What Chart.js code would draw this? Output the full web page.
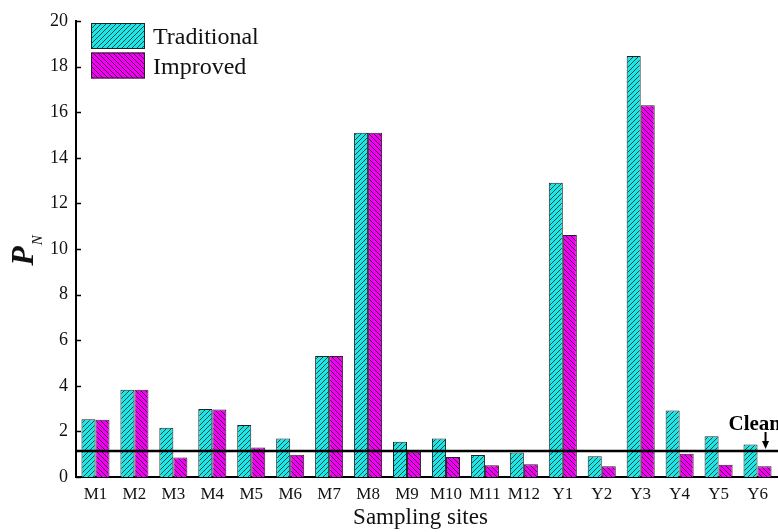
<!DOCTYPE html>
<html><head><meta charset="utf-8">
<script src="https://cdn.jsdelivr.net/npm/chart.js@4"></script>
<style>html,body{margin:0;padding:0;background:#fff}#wrap{width:778px;height:532px}</style>
</head><body><div id="wrap"><canvas id="c" width="778" height="532"></canvas></div>
<script>
// ---- data ----
const categories = ['M1','M2','M3','M4','M5','M6','M7','M8','M9','M10','M11','M12','Y1','Y2','Y3','Y4','Y5','Y6'];
const traditional = [2.53,3.83,2.16,2.98,2.28,1.69,5.31,15.10,1.55,1.69,0.96,1.08,12.91,0.91,18.47,2.92,1.79,1.43];
const improved    = [2.51,3.83,0.85,2.96,1.29,0.98,5.31,15.10,1.11,0.88,0.51,0.56,10.61,0.47,16.30,1.02,0.54,0.47];
const seriesLabels = ['Traditional','Improved'];
const yTickMin = 0, yTickMax = 20, yTickStep = 2;
const thresholdValue = 1.14;
const annotationText = 'Clean';
const annotationIndex = 17;
const yTitleMain = 'P', yTitleSub = 'N';
const xTitle = 'Sampling sites';

const SERIF = '"Liberation Serif","Times New Roman",serif';
const canvas = document.getElementById('c');
const ctx0 = canvas.getContext('2d');

function hatch(bg, dir) {
  const s = 5;
  const c = document.createElement('canvas'); c.width = s; c.height = s;
  const g = c.getContext('2d');
  g.fillStyle = bg; g.fillRect(0, 0, s, s);
  g.strokeStyle = 'rgba(0,0,0,0.75)'; g.lineWidth = 0.9;
  g.beginPath();
  if (dir > 0) {
    g.moveTo(0, s); g.lineTo(s, 0);
    g.moveTo(-1, 1); g.lineTo(1, -1);
    g.moveTo(s - 1, s + 1); g.lineTo(s + 1, s - 1);
  } else {
    g.moveTo(0, 0); g.lineTo(s, s);
    g.moveTo(-1, s - 1); g.lineTo(1, s + 1);
    g.moveTo(s - 1, -1); g.lineTo(s + 1, 1);
  }
  g.stroke();
  return ctx0.createPattern(c, 'repeat');
}
const cyanPat = hatch('#1ee6e6', 1);
const magPat = hatch('#f200f2', -1);

const decor = {
  id: 'decor',
  afterDatasetsDraw(chart) {
    const {ctx, chartArea: ca, scales: {y}} = chart;
    ctx.save();
    const ty = y.getPixelForValue(thresholdValue);
    ctx.strokeStyle = '#000'; ctx.lineWidth = 2.5;
    ctx.beginPath(); ctx.moveTo(ca.left, ty); ctx.lineTo(chart.width, ty); ctx.stroke();
    ctx.restore();
  },
  afterDraw(chart) {
    const {ctx, chartArea: ca, scales: {x, y}} = chart;
    ctx.save();
    // inward y ticks
    ctx.strokeStyle = '#000'; ctx.lineWidth = 1.5;
    y.ticks.forEach(t => {
      const py = Math.round(y.getPixelForValue(t.value)) + 0.5;
      ctx.beginPath(); ctx.moveTo(ca.left, py); ctx.lineTo(ca.left + 5, py); ctx.stroke();
    });
    // y title P_N
    ctx.fillStyle = '#111';
    ctx.translate(33, (ca.top + ca.bottom) / 2 + 2);
    ctx.rotate(-Math.PI / 2);
    ctx.font = 'italic bold 32px ' + SERIF;
    ctx.textBaseline = 'alphabetic'; ctx.textAlign = 'left';
    const pw = ctx.measureText(yTitleMain).width;
    const nfont = 'italic 15px ' + SERIF;
    ctx.font = nfont;
    const nw = ctx.measureText(yTitleSub).width;
    const start = -(pw + nw) / 2;
    ctx.font = 'italic bold 32px ' + SERIF;
    ctx.fillText(yTitleMain, start, 0);
    ctx.font = nfont;
    ctx.fillText(yTitleSub, start + pw + 1, 9);
    ctx.setTransform(1, 0, 0, 1, 0, 0);
    // x title
    ctx.font = '23px ' + SERIF;
    ctx.textAlign = 'center'; ctx.textBaseline = 'middle';
    ctx.fillText(xTitle, (ca.left + ca.right) / 2 - 6, 518);
    // legend
    const ds = chart.data.datasets;
    const boxes = [[91, 23], [91, 52.5]];
    ds.forEach((d, i) => {
      const [bx, by] = boxes[i];
      ctx.fillStyle = d.backgroundColor;
      ctx.fillRect(bx, by, 54, 26);
      ctx.strokeStyle = '#222'; ctx.lineWidth = 1;
      ctx.strokeRect(bx + 0.5, by + 0.5, 53, 25);
      ctx.fillStyle = '#111';
      ctx.font = '24px ' + SERIF;
      ctx.textAlign = 'left'; ctx.textBaseline = 'alphabetic';
      ctx.fillText(d.label, 153, by + 21);
    });
    // annotation
    const bar = chart.getDatasetMeta(1).data[annotationIndex];
    const ax = bar.x + 1;
    ctx.fillStyle = '#000';
    ctx.font = 'bold 21px ' + SERIF;
    ctx.textAlign = 'left'; ctx.textBaseline = 'alphabetic';
    ctx.fillText(annotationText, ax - 37, 430);
    ctx.strokeStyle = '#000'; ctx.lineWidth = 2;
    ctx.beginPath(); ctx.moveTo(ax, 432); ctx.lineTo(ax, 443); ctx.stroke();
    ctx.beginPath(); ctx.moveTo(ax - 3.5, 441); ctx.lineTo(ax + 3.5, 441); ctx.lineTo(ax, 449); ctx.closePath(); ctx.fill();
    ctx.restore();
  }
};

new Chart(canvas, {
  type: 'bar',
  data: {
    labels: categories,
    datasets: [
      {label: seriesLabels[0], data: traditional, backgroundColor: cyanPat, borderColor: '#222', borderWidth: 1},
      {label: seriesLabels[1], data: improved, backgroundColor: magPat, borderColor: '#222', borderWidth: 1}
    ]
  },
  options: {
    responsive: false,
    animation: false,
    devicePixelRatio: 1,
    layout: {padding: {top: 21, right: 1, left: 0, bottom: 0}},
    datasets: {bar: {categoryPercentage: 0.72, barPercentage: 1}},
    plugins: {legend: {display: false}, tooltip: {enabled: false}},
    scales: {
      x: {
        type: 'category',
        offset: true,
        grid: {display: false, drawTicks: false},
        border: {display: true, color: '#000', width: 2},
        ticks: {font: {family: SERIF, size: 17}, color: '#111', padding: 7, maxRotation: 0, autoSkip: false},
        afterFit(s) { s.height = 55; }
      },
      y: {
        min: yTickMin, max: yTickMax,
        grid: {display: false, drawTicks: false},
        border: {display: true, color: '#000', width: 2},
        ticks: {stepSize: yTickStep, font: {family: SERIF, size: 18}, color: '#111', padding: 8},
        afterFit(s) { s.width = 76; }
      }
    }
  },
  plugins: [decor]
});
</script>
</body></html>
